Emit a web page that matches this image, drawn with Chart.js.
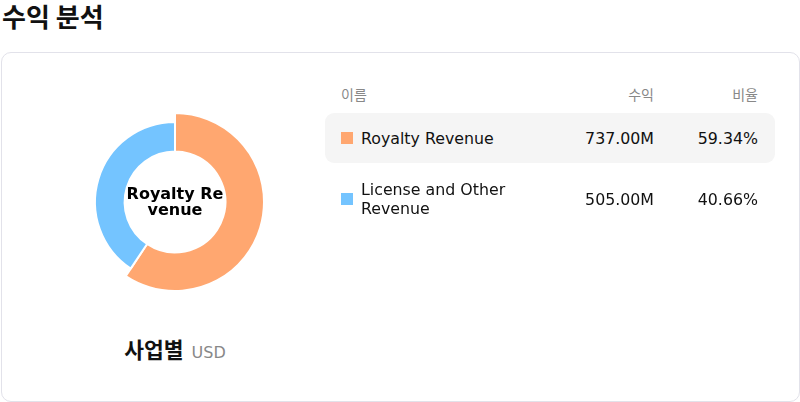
<!DOCTYPE html>
<html>
<head>
<meta charset="utf-8">
<script src="https://cdn.jsdelivr.net/npm/chart.js@4"></script>
<style>
  html, body { margin:0; padding:0; background:#fff; width:800px; height:402px; overflow:hidden;
    font-family: "DejaVu Sans", "Noto Sans CJK KR", sans-serif; color:#111; }
  #title { position:absolute; left:2px; top:0; font-size:26px; font-weight:bold; line-height:32px;
    font-family: "Noto Sans CJK KR", "DejaVu Sans", sans-serif; color:#111; }
  #card { position:absolute; left:0.5px; top:52px; width:797px; height:348px; border:1px solid #e2e2ea; border-radius:10px; }
  #chartBox { position:absolute; left:75px; top:102px; width:200px; height:200px; }
  #center { position:absolute; left:115px; top:186px; width:120px; text-align:center; font-weight:bold;
    font-size:16px; line-height:15.5px; color:#000; }
  #sub { position:absolute; left:0; width:350px; top:336px; text-align:center; line-height:26px; }
  #sub .a { font-family:"Noto Sans CJK KR", sans-serif; font-weight:bold; font-size:21.5px; color:#111; }
  #sub .b { font-size:16px; color:#888; margin-left:8px; }
  .hdr { position:absolute; top:86px; font-size:14px; color:#888; line-height:18px; font-family:"DejaVu Sans","Noto Sans CJK KR",sans-serif; }
  .row { position:absolute; left:325px; width:450px; border-radius:9px; }
  .mk { position:absolute; left:16px; width:12px; height:12px; }
  .nm { position:absolute; left:36px; width:185px; font-size:15.8px; line-height:19px; }
  .val, .pct { position:absolute; font-size:15.8px; line-height:19px; text-align:right; }
  .val { right:121px; }
  .pct { right:17px; }
</style>
</head>
<body>
<div id="title">수익 분석</div>
<div id="card"></div>
<div id="chartBox"><canvas id="c"></canvas></div>
<div id="center">Royalty Re<br>venue</div>
<div id="sub"><span class="a">사업별</span><span class="b">USD</span></div>
<div class="hdr" style="left:341px;">이름</div>
<div class="hdr" style="right:146px;">수익</div>
<div class="hdr" style="right:42px;">비율</div>
<div id="rows"></div>
<script>
const categories = ["Royalty Revenue", "License and Other Revenue"];
const revenues = [737, 505];
const revenueLabels = ["737.00M", "505.00M"];
const shareLabels = ["59.34%", "40.66%"];
const colors = ["#FFA770", "#74C4FF"];

// table rows
const rowsEl = document.getElementById('rows');
const rowTops = [113, 174];
const rowHeights = [50, 50];
categories.forEach((name, i) => {
  const r = document.createElement('div');
  r.className = 'row';
  r.style.top = rowTops[i] + 'px';
  r.style.height = rowHeights[i] + 'px';
  if (i === 0) r.style.background = '#f5f5f5';
  const mid = rowHeights[i] / 2;
  const twoLine = i === 1;
  r.innerHTML =
    `<div class="mk" style="top:${mid-6}px;background:${colors[i]}"></div>` +
    `<div class="nm" style="top:${twoLine ? mid-19 : mid-9}px">${name}</div>` +
    `<div class="val" style="top:${mid-9}px">${revenueLabels[i]}</div>` +
    `<div class="pct" style="top:${mid-9}px">${shareLabels[i]}</div>`;
  rowsEl.appendChild(r);
});

const enlargeFirst = {
  id: 'enlargeFirst',
  beforeDatasetsDraw(chart) {
    const meta = chart.getDatasetMeta(0);
    const arc = meta.data[0];
    if (arc) arc.outerRadius = arc.outerRadius + 9;
  }
};

new Chart(document.getElementById('c'), {
  type: 'doughnut',
  data: {
    labels: categories,
    datasets: [{
      data: revenues,
      backgroundColor: colors,
      borderColor: '#ffffff',
      borderWidth: 2,
      hoverOffset: 0
    }]
  },
  options: {
    responsive: true,
    maintainAspectRatio: false,
    animation: false,
    radius: 80,
    cutout: '63%',
    events: [],
    plugins: { legend: { display: false }, tooltip: { enabled: false } }
  },
  plugins: [enlargeFirst]
});
</script>
</body>
</html>
